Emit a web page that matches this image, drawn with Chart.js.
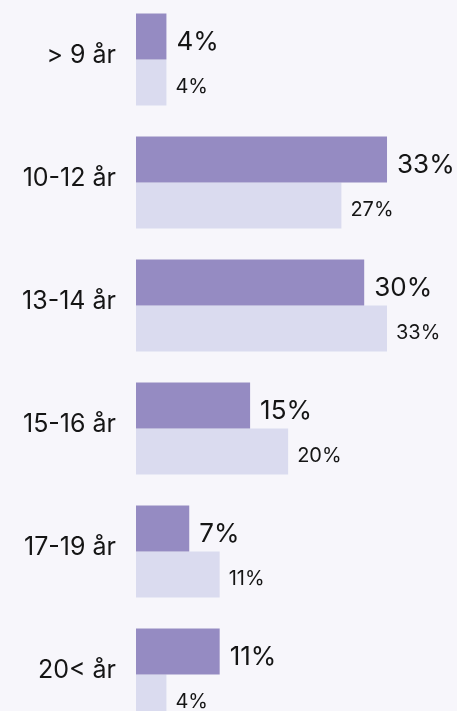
<!DOCTYPE html>
<html>
<head>
<meta charset="utf-8">
<script src="https://cdn.jsdelivr.net/npm/chart.js@4"></script>
<style>
  html, body { margin: 0; padding: 0; background: #f7f6fb; overflow: hidden; }
  #wrap { position: absolute; left: 0; top: -2px; width: 457px; height: 738px; }
</style>
</head>
<body>
<div id="wrap"><canvas id="myChart" width="457" height="738"></canvas></div>
<script>
// data
const categories = ['> 9 år', '10-12 år', '13-14 år', '15-16 år', '17-19 år', '20< år'];
const seriesDark = [4, 33, 30, 15, 7, 11];
const seriesLight = [4, 27, 33, 20, 11, 4];

const darkColor = '#958bc2';
const lightColor = '#dadbef';
const textColor = '#151515';
const fontName = 'Inter, "Noto Sans", sans-serif';

// labels drawn by hand (no datalabels plugin available)
const labelPlugin = {
    id: 'labels',
    afterDatasetsDraw(chart) {
        const c = chart.ctx;
        c.save();
        c.fillStyle = textColor;
        c.textBaseline = 'middle';
        // category names on the left
        c.textAlign = 'right';
        c.font = '25px ' + fontName;
        const yScale = chart.scales.y;
        categories.forEach((cat, i) => {
            c.fillText(cat, 116, yScale.getPixelForValue(i) - 4);
        });
        // values at bar ends
        c.textAlign = 'left';
        chart.data.datasets.forEach((ds, di) => {
            const meta = chart.getDatasetMeta(di);
            meta.data.forEach((bar, i) => {
                if (di === 0) {
                    c.font = '26px ' + fontName;
                    c.fillText(ds.data[i] + '%', bar.x + 10, bar.y + 6);
                } else {
                    c.font = '20px ' + fontName;
                    c.fillText(ds.data[i] + '%', bar.x + 9, bar.y + 4);
                }
            });
        });
        c.restore();
    }
};

const ctx = document.getElementById('myChart');
const myChart = new Chart(ctx, {
    type: 'bar',
    data: {
        labels: categories,
        datasets: [
            { data: seriesDark, backgroundColor: darkColor, categoryPercentage: 0.748, barPercentage: 1 },
            { data: seriesLight, backgroundColor: lightColor, categoryPercentage: 0.748, barPercentage: 1 }
        ]
    },
    options: {
        indexAxis: 'y',
        responsive: false,
        animation: false,
        layout: { padding: { left: 136, right: 0, top: 0, bottom: 0 } },
        plugins: { legend: { display: false }, tooltip: { enabled: false } },
        scales: {
            x: { display: false, min: 0, max: 42.2 },
            y: { display: false }
        }
    },
    plugins: [labelPlugin]
});
</script>
</body>
</html>
